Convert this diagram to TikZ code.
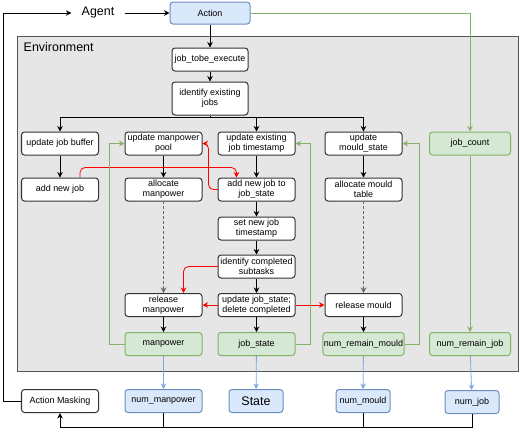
\documentclass[tikz,border=0pt]{standalone}
\usepackage{fontspec}
\setmainfont{Liberation Sans}
\usetikzlibrary{arrows.meta}
\definecolor{blufill}{HTML}{DAE8FC}
\definecolor{bluline}{HTML}{6C8EBF}
\definecolor{bluarr}{HTML}{7EA6E0}
\definecolor{grnfill}{HTML}{D5E8D4}
\definecolor{grnline}{HTML}{82B366}
\definecolor{envfill}{HTML}{E6E6E6}
\definecolor{envline}{HTML}{555555}
\begin{document}
\begin{tikzpicture}[x=1bp, y=-1bp, line width=0.8bp,
    >={Stealth[length=5.5bp, width=5.5bp]}]
    \tikzstyle{box}=[draw=black!80, line width=1bp, rounded corners=3bp, fill=white,
                     minimum width=77bp, minimum height=23bp, inner sep=1bp,
                     align=center, font=\fontsize{9}{10.2}\selectfont]
    \tikzstyle{grn}=[box, draw=grnline, fill=grnfill]
    \tikzstyle{blu}=[box, draw=bluline, fill=blufill]
    \useasboundingbox (0,0) rectangle (520,430);

    \draw[envline, fill=envfill] (17,36) rectangle (518,371);
    \node[anchor=west, font=\fontsize{12.5}{14}\selectfont] (env) at (20,47) {Environment};

    \node[blu, minimum width=80bp, minimum height=22bp] (act) at (210,13) {Action};
    \node[font=\fontsize{12.5}{14}\selectfont, inner xsep=10bp] (agent) at (98,13) {Agent};
    \node[box, minimum width=76bp] (exe) at (210,59.5) {job\_tobe\_execute};
    \node[box, minimum width=76bp, minimum height=33bp] (ide) at (210,98.5) {identify existing\\jobs};

    \node[box] (buf) at (60,143.5) {update job buffer};
    \node[box] (pool) at (163.5,143.5) {update manpower\\pool};
    \node[box] (ets) at (256.5,143.5) {update existing\\job timestamp};
    \node[box] (mst) at (363.5,143.5) {update\\mould\_state};
    \node[grn, minimum width=81bp] (cnt) at (470,143.5) {job\_count};

    \node[box] (add) at (60,189.5) {add new job};
    \node[box] (alm) at (163.5,189.5) {allocate\\manpower};
    \node[box] (ajs) at (256.5,189.5) {add new job to\\job\_state};
    \node[box] (amt) at (363.5,189.5) {allocate mould\\table};
    \node[box] (nts) at (256.5,228.5) {set new job\\timestamp};
    \node[box] (ics) at (256.5,266.5) {identify completed\\subtasks};

    \node[box] (rmp) at (163.5,305) {release\\manpower};
    \node[box] (ujs) at (256.5,305) {update job\_state;\\delete completed};
    \node[box] (rmo) at (363.5,305) {release mould};

    \node[grn] (mp) at (163.5,344) {manpower};
    \node[grn] (js) at (256.5,344) {job\_state};
    \node[grn] (nrm) at (363.5,344) {num\_remain\_mould};
    \node[grn, minimum width=81bp] (nrj) at (470,344) {num\_remain\_job};

    \node[box] (mask) at (60,401) {Action Masking};
    \node[blu] (nmp) at (163.5,401) {num\_manpower};
    \node[blu, minimum width=54bp, font=\fontsize{12.5}{14}\selectfont] (st) at (256,401) {State};
    \node[blu, minimum width=54bp] (nmo) at (363,401) {num\_mould};
    \node[blu, minimum width=54bp] (nj) at (472,402) {num\_job};

    \coordinate (br) at (210,117);
    \coordinate (bl) at (60,427);
    \coordinate (tl) at (3,13);

    % main flow
    \draw[->] (agent) -- (act);
    \draw[->] (act) -- (exe);
    \draw[->] (exe) -- (ide);
    \draw (ide) -- (br);
    \draw[->] (br) -| (buf);
    \draw[->] (br) -| (ets);
    \draw[->] (br) -| (mst);
    \path[->] (buf) edge (add)
              (pool) edge (alm)
              (ets) edge (ajs)
              (mst) edge (amt)
              (ajs) edge (nts)
              (nts) edge (ics)
              (ics) edge (ujs)
              (ujs) edge (js)
              (rmp) edge (mp)
              (rmo) edge (nrm);
    \draw[->, densely dashed, draw=black!60] (alm) -- (rmp);
    \draw[->, densely dashed, draw=black!60] (amt) -- (rmo);

    % red links
    \draw[->, red, rounded corners=5bp] ([xshift=-19bp]add.north east) -- ++(0,-10)
        -| ([xshift=19bp]ajs.north west);
    \draw[->, red, rounded corners=5bp] (ajs.west) -- ++(-9,0) |- (pool.east);
    \draw[->, red, rounded corners=5bp] (ics.west) -| ([xshift=-19bp]rmp.north east);
    \draw[->, red] (ujs) -- (rmp);
    \draw[->, red] (ujs) -- (rmo);

    % green feedback
    \draw[->, grnline] (act) -| (cnt);
    \draw[->, grnline] (cnt) -- (nrj);
    \draw[->, grnline] (mp.west) -- ++(-15,0) |- (pool.west);
    \draw[->, grnline] (js.east) -- ++(15,0) |- (ets.east);
    \draw[->, grnline] (nrm.east) -- ++(15,0) |- (mst.east);

    % state outputs
    \path[->, bluarr] (mp) edge (nmp)
                      (js) edge (st)
                      (nrm) edge (nmo)
                      (nrj) edge (nj);
    \draw (nmp) -- (nmp |- bl);
    \draw (nmo) -- (nmo |- bl);
    \draw[->] (nj) |- (bl) -- (mask);
    \draw[->] (mask) -| (tl) -- (agent);
\end{tikzpicture}
\end{document}
